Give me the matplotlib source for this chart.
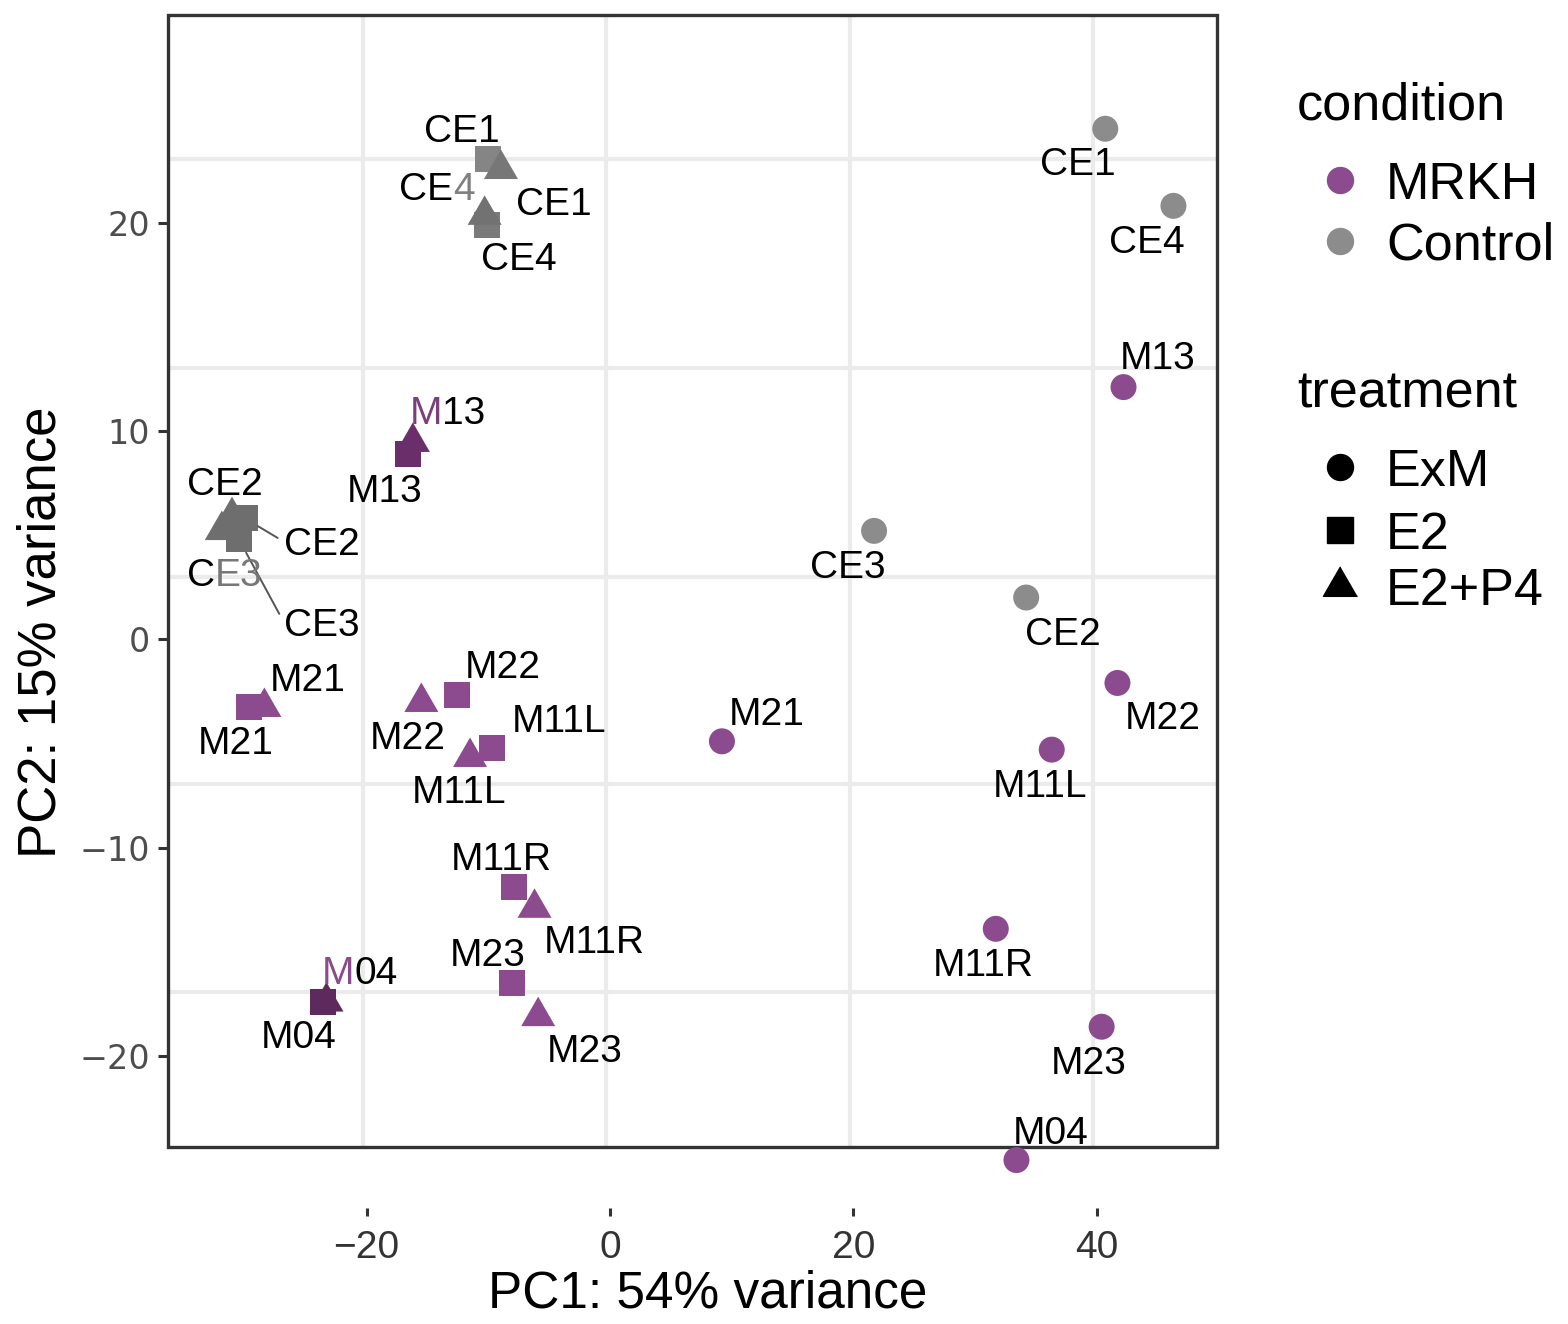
import matplotlib
matplotlib.use("Agg")
import matplotlib.pyplot as plt
from matplotlib.lines import Line2D
from matplotlib.patches import Rectangle

# PCA scores per sample
samples = ["CE1", "CE4", "M13", "CE3", "CE2", "M22", "M21", "M11L", "M11R", "M23", "M04",
           "CE1", "CE4", "CE2", "CE3", "M13", "M21", "M22", "M11L", "M11R", "M23", "M04",
           "CE1", "CE4", "CE2", "CE3", "M13", "M21", "M22", "M11L", "M11R", "M23", "M04"]
condition = ["Control", "Control", "MRKH", "Control", "Control", "MRKH", "MRKH", "MRKH", "MRKH", "MRKH", "MRKH",
             "Control", "Control", "Control", "Control", "MRKH", "MRKH", "MRKH", "MRKH", "MRKH", "MRKH", "MRKH",
             "Control", "Control", "Control", "Control", "MRKH", "MRKH", "MRKH", "MRKH", "MRKH", "MRKH", "MRKH"]
treatment = ["ExM"] * 11 + ["E2"] * 11 + ["E2+P4"] * 11
pc1 = [40.7, 46.3, 42.2, 21.7, 34.2, 41.7, 9.2, 36.3, 31.7, 40.4, 33.4,
       -10.0, -10.1, -30.0, -30.5, -16.6, -29.7, -12.6, -9.7, -7.9, -8.05, -23.6,
       -8.96, -10.3, -31.06, -31.9, -16.2, -28.4, -15.5, -11.5, -6.2, -5.9, -23.3]
pc2 = [24.5, 20.8, 12.1, 5.2, 2.0, -2.1, -4.9, -5.3, -13.9, -18.6, -25.0,
       23.04, 19.9, 5.8, 4.8, 8.9, -3.26, -2.69, -5.2, -11.9, -16.5, -17.4,
       22.56, 20.36, 5.9, 5.23, 9.46, -3.26, -3.02, -5.66, -12.9, -18.1, -17.4]

# label placement: offset in pixels from each point
label_dx = [-27, -27, 34, -26, 37, 45, 45, -12, -13, -13, 34,
            -26, -50, 77, 83, -23, -13, 46, 67, -13, -24, -24,
            53, 34, -7, 3, 34, 43, -14, -11, 60, 46, 33]
label_dy = [-32, -33, 32, -33, -33, -32, 30, -33, -33, -33, 30,
            31, 39, -23, -83, -34, -33, 31, 30, 31, 31, -32,
            -32, -41, 35, -42, 32, 30, -33, -32, -31, -32, 32]
with_segment = {13, 14}

cond_colors = {"MRKH": "#8C4B8E", "Control": "#8C8C8C"}
shade = {11: "#858585", 12: "#7A7A7A", 22: "#777777", 23: "#727272",
         13: "#6E6E6E", 14: "#6E6E6E", 24: "#6E6E6E", 25: "#6E6E6E",
         15: "#6A2F6B", 26: "#6A2F6B", 21: "#5E2A5E", 32: "#5E2A5E"}

tri = [(0, 0.577), (-0.5, -0.289), (0.5, -0.289)]
markers = {"ExM": ("o", 350), "E2": ("s", 350), "E2+P4": (tri, 800)}

fig = plt.figure(figsize=(15.68, 13.24), dpi=100)
W, H = 1568, 1324
ax = fig.add_axes([168 / W, 116 / H, 1049 / W, 1193 / H])
ax.set_xlim(-36.32, 49.88)
ax.set_ylim(-27.3, 29.96)
frame_bottom = -24.36

# background grid and panel border
for gx in [-20.3, -0.3, 19.7, 39.7]:
    ax.plot([gx, gx], [frame_bottom, 29.96], color="#EBEBEB", lw=3, zorder=0.5)
for gy in [23.04, 13.0, 2.98, -6.96, -16.95]:
    ax.plot([-36.32, 49.88], [gy, gy], color="#EBEBEB", lw=3, zorder=0.5)
ax.add_patch(Rectangle((-36.32, frame_bottom), 49.88 + 36.32, 29.96 - frame_bottom,
                       fill=False, ec="#333333", lw=2.4, zorder=1, clip_on=False))
for s in ax.spines.values():
    s.set_visible(False)

for i in range(len(samples)):
    m, size = markers[treatment[i]]
    c = shade.get(i, cond_colors[condition[i]])
    ax.scatter(pc1[i], pc2[i], marker=m, s=size, color=c, edgecolors="none",
               zorder=3, clip_on=False)

lab_font = dict(family="Liberation Sans", fontsize=28, color="black", zorder=4)
# labels partly tinted by overlapping marks: (split index, split dx, tint, tinted side)
tints = {12: (2, -34, "#808080", "right"), 26: (1, 29, "#7A3F7C", "left"),
         32: (1, 28, "#8A4A8C", "left"), 25: (1, -7, "#777777", "right")}

for i, name in enumerate(samples):
    xy = (pc1[i], pc2[i])
    if i in tints:
        k, sx, tc, side = tints[i]
        c_left = tc if side == "left" else "black"
        c_right = tc if side == "right" else "black"
        kw = {key: v for key, v in lab_font.items() if key != "color"}
        ax.annotate(name[:k], xy, xytext=(sx, label_dy[i]), textcoords="offset pixels",
                    ha="right", va="center_baseline", color=c_left, **kw)
        ax.annotate(name[k:], xy, xytext=(sx, label_dy[i]), textcoords="offset pixels",
                    ha="left", va="center_baseline", color=c_right, **kw)
        continue
    arrow = None
    if i in with_segment:
        arrow = dict(arrowstyle="-", color="#555555", lw=1.4, shrinkA=3, shrinkB=11,
                     relpos=(0, 0.6))
    ax.annotate(name, xy, xytext=(label_dx[i], label_dy[i]), textcoords="offset pixels",
                ha="center", va="center_baseline", arrowprops=arrow, **lab_font)

ax.set_xticks([-20, 0, 20, 40])
ax.set_yticks([-20, -10, 0, 10, 20])
ax.tick_params(axis="x", length=6, width=2.2, color="#333333", pad=10,
               labelsize=28, labelcolor="#333333")
ax.tick_params(axis="y", length=7, width=2.2, color="#333333", pad=6,
               labelsize=24, labelcolor="#4D4D4D")
for t in ax.get_xticklabels():
    t.set_family("Liberation Sans")
for t in ax.get_yticklabels():
    t.set_family("DejaVu Sans")


def px(x, y):
    return x / W, 1 - y / H


fig.text(*px(708, 1294), "PC1: 54% variance", family="Liberation Sans", fontsize=37,
         ha="center", va="center")
fig.text(*px(42, 632), "PC2: 15% variance", family="Liberation Sans", fontsize=38,
         ha="center", va="center", rotation=90)

# legends
leg_font = dict(family="Liberation Sans", fontsize=37.5, va="center_baseline")
fig.text(*px(1297, 101), "condition", ha="left", **leg_font)
fig.text(*px(1297, 389), "treatment", ha="left", **leg_font)
cond_items = [("MRKH", 180), ("Control", 241)]
for name, y in cond_items:
    fig.add_artist(Line2D([px(1340, y)[0]], [px(1340, y)[1]], marker="o", markersize=18.7,
                          color=cond_colors[name], lw=0, transform=fig.transFigure))
    fig.text(*px(1386, y), name, ha="left", **leg_font)
treat_items = [("ExM", 467, 18.7), ("E2", 530, 18.7), ("E2+P4", 586, 28.3)]
for name, y, ms in treat_items:
    m = markers[name][0]
    fig.add_artist(Line2D([px(1340, y)[0]], [px(1340, y)[1]], marker=m, markersize=ms,
                          color="black", lw=0, transform=fig.transFigure))
    fig.text(*px(1386, y), name, ha="left", **leg_font)

fig.savefig("out.png", dpi=100, facecolor="white")
